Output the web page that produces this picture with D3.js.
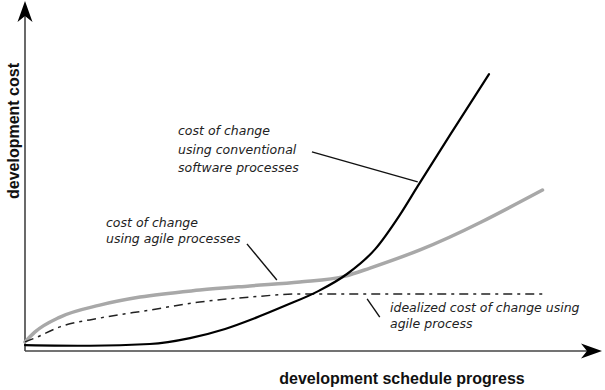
<!DOCTYPE html>
<html>
  <head>
    <meta charset="utf-8">
    <script src="https://d3js.org/d3.v7.min.js"></script>
    <style>
      body { margin: 0; background: #fff; }
      .note { font-family: "DejaVu Sans", Verdana, sans-serif; font-style: italic; font-size: 12.5px; fill: #222; }
      .axis-label { font-family: "Liberation Sans", Arial, sans-serif; font-weight: bold; font-size: 16px; fill: #111; }
    </style>
  </head>
  <body>
    <div id="graph"></div>
  <script>
    // progress (0-100) and cost (0-100)
    var convX = [0, 11.3, 21.7, 28.7, 34.8, 40, 45.2, 51, 56, 60.9, 65.2, 68.3, 73.9, 80.7];
    var convY = [1.7, 1.5, 2, 3.7, 6.3, 9.4, 12.9, 17.1, 22, 29.1, 38.9, 47.1, 61.7, 79.1];

    var agileX = [0, 1.7, 6.1, 13, 20, 30.4, 39.1, 47.8, 55.7, 60, 68.7, 90];
    var agileY = [2.6, 5.4, 9.7, 13.1, 15.4, 17.4, 18.6, 19.7, 21.4, 23.7, 28.9, 46];

    var idealX = [0, 1.7, 6.1, 13, 21.7, 30.4, 39.1, 47.8, 56.5, 90];
    var idealY = [2.6, 3.7, 6.9, 9.4, 11.7, 14, 15.4, 16.3, 16.3, 16.3];

    var convText = ["cost of change", "using conventional", "software processes"];
    var agileText = ["cost of change", "using agile processes"];
    var idealText = ["idealized cost of change using", "agile process"];

    var xTitle = "development schedule progress";
    var yTitle = "development cost";

    var width = 605, height = 390;

    var svg = d3.select("#graph")
                .append("svg")
                  .attr("width", width)
                  .attr("height", height);

    var xScale = d3.scaleLinear().domain([0, 100]).range([25, 600]);
    var yScale = d3.scaleLinear().domain([0, 100]).range([351, 1]);

    function zip(xs, ys) { return xs.map(function(x, i) { return [x, ys[i]]; }); }

    var line = d3.line()
                 .x(function(d) { return xScale(d[0]); })
                 .y(function(d) { return yScale(d[1]); })
                 .curve(d3.curveMonotoneX);

    // axes
    svg.append("line")
       .attr("x1", xScale(0)).attr("y1", yScale(0))
       .attr("x2", xScale(100) - 8).attr("y2", yScale(0))
       .attr("stroke", "#444").attr("stroke-width", 1.6);

    svg.append("line")
       .attr("x1", xScale(0)).attr("y1", yScale(0))
       .attr("x2", xScale(0)).attr("y2", yScale(100) + 8)
       .attr("stroke", "#444").attr("stroke-width", 1.6);

    var arrow = "M0,0 L-21,-7.5 L-15,0 L-21,7.5 Z";

    svg.append("path")
       .attr("d", arrow)
       .attr("fill", "#000")
       .attr("transform", "translate(" + (xScale(100) + 2) + "," + yScale(0) + ")");

    svg.append("path")
       .attr("d", arrow)
       .attr("fill", "#000")
       .attr("transform", "translate(" + xScale(0) + "," + yScale(100) + ") rotate(-90)");

    // agile (grey)
    svg.append("path")
       .datum(zip(agileX, agileY))
       .attr("fill", "none")
       .attr("stroke", "#a8a8a8")
       .attr("stroke-width", 3.5)
       .attr("stroke-linecap", "round")
       .attr("d", line);

    // idealized (dash-dot)
    svg.append("path")
       .datum(zip(idealX, idealY))
       .attr("fill", "none")
       .attr("stroke", "#222")
       .attr("stroke-width", 1.5)
       .attr("stroke-dasharray", "9,5,3,5")
       .attr("d", line);

    // conventional (black)
    svg.append("path")
       .datum(zip(convX, convY))
       .attr("fill", "none")
       .attr("stroke", "#000")
       .attr("stroke-width", 2.2)
       .attr("stroke-linecap", "round")
       .attr("d", line);

    // leader lines
    var leaders = [
      [[49.9, 56.9], [68.3, 48.3]],
      [[38.6, 30.6], [43.8, 20.3]],
      [[59.5, 14.9], [61.7, 9.7]]
    ];
    svg.selectAll(".leader")
       .data(leaders)
       .enter().append("path")
       .attr("class", "leader")
       .attr("fill", "none")
       .attr("stroke", "#111")
       .attr("stroke-width", 1.4)
       .attr("d", d3.line().x(d => xScale(d[0])).y(d => yScale(d[1])));

    function note(lines, x, y, step) {
      var t = svg.append("text")
                 .attr("class", "note")
                 .attr("x", x)
                 .attr("y", y);
      t.selectAll("tspan")
       .data(lines)
       .enter().append("tspan")
       .attr("x", x)
       .attr("dy", (d, i) => i === 0 ? 0 : step)
       .text(d => d);
    }

    note(convText, 178, 135, 18.5);
    note(agileText, 106, 227, 16);
    note(idealText, 390, 312, 16);

    // axis titles
    svg.append("text")
       .attr("class", "axis-label")
       .attr("x", 402)
       .attr("y", 384)
       .attr("text-anchor", "middle")
       .text(xTitle);

    svg.append("text")
       .attr("class", "axis-label")
       .attr("transform", "translate(19,131) rotate(-90)")
       .attr("text-anchor", "middle")
       .text(yTitle);
  </script>
  </body>
</html>
